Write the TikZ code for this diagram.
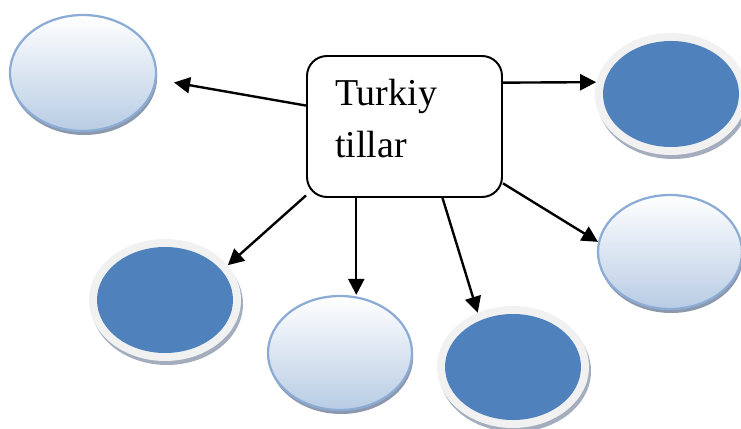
\documentclass[tikz,border=0pt]{standalone}
\usepackage{fontspec}
\setmainfont{Liberation Serif}
\usepackage{tikz}
\usetikzlibrary{shapes.geometric}
\usetikzlibrary{shadows}
\usetikzlibrary{arrows.meta}
\pgfdeclarelayer{nodelayer}
\pgfdeclarelayer{edgelayer}
\pgfsetlayers{nodelayer,edgelayer,main}
\definecolor{blobblue}{RGB}{79,129,189}
\definecolor{ringgray}{RGB}{241,241,241}
\definecolor{paleedge}{RGB}{140,172,214}
\definecolor{palebottom}{RGB}{184,204,228}
\definecolor{shadowgray}{RGB}{140,152,172}

\begin{document}
\begin{tikzpicture}[
    box/.style={rectangle, draw, line width=1.4pt, rounded corners=0.5cm,
      minimum width=4.875cm, minimum height=3.525cm, text width=3.475cm,
      inner xsep=0.7cm, align=left, text height=0.64cm, text depth=1.68cm,
      font=\fontsize{27pt}{37pt}\selectfont},
    paleblob/.style={ellipse, draw=paleedge, line width=1.6pt, inner sep=0pt,
      minimum width=3.6cm, minimum height=2.85cm,
      top color=white, bottom color=palebottom,
      drop shadow={shadow xshift=0.03cm, shadow yshift=-0.1cm, fill=shadowgray, opacity=1}},
    fullblob/.style={ellipse, fill=ringgray, inner sep=0pt,
      minimum width=3.8cm, minimum height=3.05cm,
      drop shadow={shadow xshift=0.05cm, shadow yshift=-0.1cm, fill=shadowgray!80, opacity=1},
      path picture={\fill [blobblue] (path picture bounding box.center)
        ellipse [x radius=1.7cm, y radius=1.325cm];}},
    arr/.style={-{Triangle[length=0.4cm, width=0.4cm]}, line width=1.7pt}
  ]
  \useasboundingbox (0, 0) rectangle (18.525, 10.7);
  \begin{pgfonlayer}{nodelayer}
    \node [box] (0) at (10.1125, 7.5375) {Turkiy\\tillar};
    \node [paleblob, minimum width=3.65cm, minimum height=2.9cm] (1) at (2.075, 8.875) {};
    \node [fullblob] (2) at (16.775, 8.35) {};
    \node [paleblob] (3) at (16.75, 4.4) {};
    \node [fullblob] (4) at (4.125, 3.2) {};
    \node [paleblob] (5) at (8.5, 1.875) {};
    \node [fullblob] (6) at (12.825, 1.525) {};
  \end{pgfonlayer}
  \begin{pgfonlayer}{edgelayer}
    \draw [arr, shorten >=0.44cm] (0.168.7) to (1.355.4);
    \draw [arr] (0.24) to (2.171.7);
    \draw [arr] (0.-30.6) to (3.172.9);
    \draw [arr] (0.215.8) to (4.29.4);
    \draw [arr] (0.236) to (0.236 |- 5.north);
    \draw [arr] (0.-62) to (6.123);
  \end{pgfonlayer}
\end{tikzpicture}
\end{document}
